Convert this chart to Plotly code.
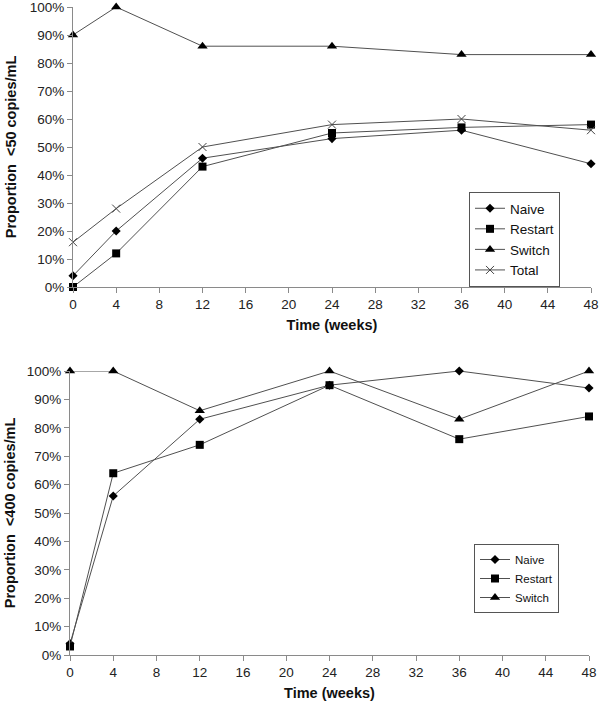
import plotly.graph_objects as go

weeks = [0, 4, 12, 24, 36, 48]

# Top panel: proportion <50 copies/mL (%)
naive_50 = [4, 20, 46, 53, 56, 44]
restart_50 = [0, 12, 43, 55, 57, 58]
switch_50 = [90, 100, 86, 86, 83, 83]
total_50 = [16, 28, 50, 58, 60, 56]

# Bottom panel: proportion <400 copies/mL (%)
naive_400 = [4, 56, 83, 95, 100, 94]
restart_400 = [3, 64, 74, 95, 76, 84]
switch_400 = [100, 100, 86, 100, 83, 100]

x_ticks = list(range(0, 49, 4))
y_ticks = list(range(0, 101, 10))
y_ticktext = [f"{v}%" for v in y_ticks]

W, H = 600, 703
FONT = "Liberation Sans, Arial, sans-serif"
LINE = "#505050"

fig = go.Figure()

styles = {
    "Naive": dict(symbol="diamond", size=7, color="black"),
    "Restart": dict(symbol="square", size=8, color="black"),
    "Switch": dict(symbol="triangle-up", size=9, color="black"),
    "Total": dict(symbol="x-thin", size=8, color="#444", line=dict(width=1, color="#444")),
}

def add(name, y, xa, ya, legend):
    fig.add_trace(go.Scatter(
        x=weeks, y=y, name=name, mode="lines+markers",
        line=dict(color=LINE, width=1),
        marker=styles[name],
        xaxis=xa, yaxis=ya, legend=legend, cliponaxis=False,
    ))

add("Naive", naive_50, "x", "y", "legend")
add("Restart", restart_50, "x", "y", "legend")
add("Switch", switch_50, "x", "y", "legend")
add("Total", total_50, "x", "y", "legend")
add("Naive", naive_400, "x2", "y2", "legend2")
add("Restart", restart_400, "x2", "y2", "legend2")
add("Switch", switch_400, "x2", "y2", "legend2")

axis_common = dict(showgrid=False, zeroline=False, showline=True, linecolor="#8a8a8a",
                   linewidth=1, ticks="outside", ticklen=5, tickcolor="#8a8a8a",
                   automargin=False, ticklabeloverflow="allow",
                   tickfont=dict(family=FONT, size=13.5, color="#222"))

xcommon = dict(axis_common, range=[0, 48], tickvals=x_ticks,
               title=dict(text="<b>Time (weeks)</b>", font=dict(family=FONT, size=14.5, color="#111"), standoff=8))
ycommon = dict(axis_common, range=[0, 100], tickvals=y_ticks, ticktext=y_ticktext)

fig.update_layout(
    width=W, height=H,
    margin=dict(l=0, r=0, t=0, b=0, autoexpand=False),
    plot_bgcolor="white", paper_bgcolor="white",
    font=dict(family=FONT, color="#111"),
    xaxis=dict(xcommon, domain=[73 / W, 591 / W], anchor="y"),
    yaxis=dict(ycommon, domain=[1 - 287 / H, 1 - 7 / H], anchor="x",
               title=dict(text="<b>Proportion  &lt;50 copies/mL</b>", font=dict(family=FONT, size=14.5, color="#111"), standoff=9)),
    xaxis2=dict(xcommon, domain=[70 / W, 589 / W], anchor="y2"),
    yaxis2=dict(ycommon, domain=[1 - 655 / H, 1 - 371 / H], anchor="x2",
                title=dict(text="<b>Proportion  &lt;400 copies/mL</b>", font=dict(family=FONT, size=14.5, color="#111"), standoff=7)),
    legend=dict(x=469 / W, y=1 - 192 / H, xanchor="left", yanchor="top",
                bordercolor="#555", borderwidth=1, bgcolor="white",
                font=dict(family=FONT, size=13.5, color="#111"), tracegroupgap=0,
                itemwidth=30),
    legend2=dict(x=474 / W, y=1 - 544 / H, xanchor="left", yanchor="top",
                 bordercolor="#555", borderwidth=1, bgcolor="white",
                 font=dict(family=FONT, size=11.5, color="#111"), tracegroupgap=0,
                 itemwidth=30),
)

fig.write_html("out.html", config={"displayModeBar": False},
               post_script="document.body.style.margin='0';document.body.style.overflow='hidden';")
